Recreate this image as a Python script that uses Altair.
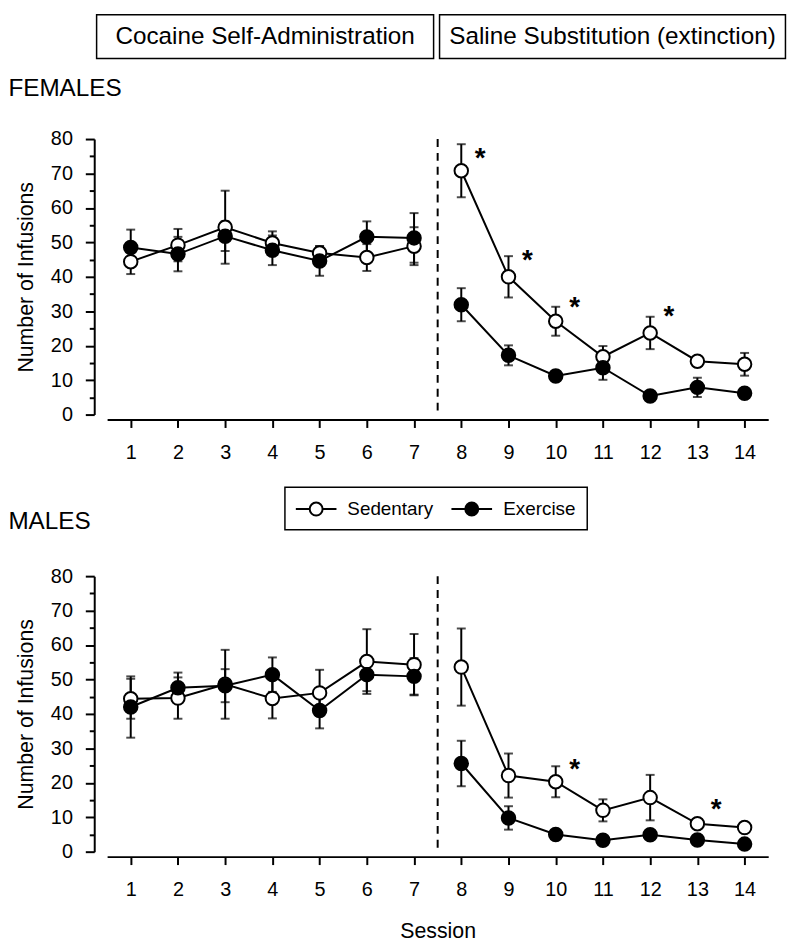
import altair as alt
import pandas as pd

# ---------------- data ----------------
sessions = list(range(1, 15))
groups = ["Sedentary", "Exercise"]
phase_labels = ["Cocaine Self-Administration", "Saline Substitution (extinction)"]
panel_names = ["FEMALES", "MALES"]
y_title = "Number of Infusions"
x_title = "Session"

fem_sed_mean = [44.4, 49.2, 54.4, 49.8, 46.9, 45.6, 48.9, 70.8, 40.0, 27.1, 16.8, 23.7, 15.5, 14.6]
fem_sed_sem = [3.6, 4.7, 10.6, 3.4, 2.0, 3.9, 5.5, 7.7, 6.0, 4.2, 3.1, 4.7, 1.5, 3.3]
fem_ex_mean = [48.5, 46.6, 51.8, 47.7, 44.6, 51.6, 51.3, 31.9, 17.2, 11.2, 13.6, 5.4, 7.9, 6.2]
fem_ex_sem = [5.2, 5.0, 4.3, 4.3, 4.3, 4.5, 7.2, 4.8, 2.9, 1.5, 3.5, 0.8, 2.8, 1.0]

male_sed_mean = [44.4, 44.6, 48.6, 44.5, 46.1, 55.2, 54.3, 53.6, 22.1, 20.3, 12.0, 15.7, 8.1, 7.0]
male_sed_sem = [5.8, 6.0, 10.0, 5.8, 6.7, 9.4, 8.9, 11.2, 6.4, 4.5, 3.2, 6.6, 1.0, 1.0]
male_ex_mean = [42.0, 47.6, 48.2, 51.4, 41.0, 51.4, 50.9, 25.6, 9.8, 5.0, 3.3, 4.9, 3.4, 2.2]
male_ex_sem = [8.9, 4.4, 4.8, 5.0, 5.2, 4.8, 5.3, 6.6, 3.4, 1.0, 0.8, 1.0, 0.8, 0.8]

fem_star_sessions = [8, 9, 10, 12]
fem_star_y = [75.1, 45.3, 31.9, 29.2]
male_star_sessions = [10, 13]
male_star_y = [24.5, 13.0]

last_cocaine_session = 7
y_ticks = list(range(0, 81, 5))

FONT = "Liberation Sans"
W, H = 667, 278

xscale = alt.Scale(domain=[0.5, 14.5], nice=False, zero=False)
yscale = alt.Scale(domain=[0, 80], nice=False, zero=True)


def build_df(sed_m, sed_s, ex_m, ex_s):
    rows = []
    for g, means, sems in ((groups[0], sed_m, sed_s), (groups[1], ex_m, ex_s)):
        for s, m, e in zip(sessions, means, sems):
            ph = 0 if s <= last_cocaine_session else 1
            rows.append({"session": s, "group": g, "mean": m, "lo": m - e, "hi": m + e,
                         "segment": f"{g}-{ph}"})
    return pd.DataFrame(rows)


def panel(df, star_s, star_y, name, bottom):
    xaxis = alt.Axis(values=sessions, offset=5, tickSize=8, tickWidth=2, domainWidth=2,
                     labelPadding=15, labelFontSize=20, grid=False, labelOverlap=False,
                     title=x_title if bottom else None, titleFontSize=21.5,
                     titleFontWeight="normal", titlePadding=22)
    yaxis = alt.Axis(values=y_ticks, offset=13, domainWidth=2, tickWidth=2,
                     tickSize={"condition": {"test": "datum.value % 10 === 0", "value": 9}, "value": 5},
                     labelExpr="datum.value % 10 === 0 ? datum.label : ''",
                     labelOverlap=False, labelPadding=13, labelFontSize=20, grid=False,
                     title=y_title, titleFontSize=21.5, titleFontWeight="normal", titlePadding=13)
    X = lambda f: alt.X(f"{f}:Q", scale=xscale, axis=xaxis)
    Y = lambda f: alt.Y(f"{f}:Q", scale=yscale, axis=yaxis)

    base = alt.Chart(df)
    err = base.mark_rule(strokeWidth=2, color="black").encode(x=X("session"), y=Y("lo"), y2="hi:Q")
    sep = alt.Chart(pd.DataFrame({"session": [last_cocaine_session + 0.5]})).mark_rule(
        strokeDash=[8, 6], strokeWidth=2, color="black").encode(
        x=X("session"), y=alt.YDatum(80, scale=yscale, axis=yaxis), y2=alt.Y2Datum(0))
    cap_lo = base.mark_tick(orient="horizontal", size=9, thickness=2, color="black").encode(
        x=X("session"), y=Y("lo"))
    cap_hi = base.mark_tick(orient="horizontal", size=9, thickness=2, color="black").encode(
        x=X("session"), y=Y("hi"))
    lines = base.mark_line(strokeWidth=2, color="black").encode(
        x=X("session"), y=Y("mean"), detail="segment:N")
    pts_sed = base.transform_filter(alt.datum.group == groups[0]).mark_point(
        filled=True, fill="white", stroke="black", strokeWidth=2, size=185, opacity=1).encode(
        x=X("session"), y=Y("mean"))
    pts_ex = base.transform_filter(alt.datum.group == groups[1]).mark_point(
        filled=True, fill="black", stroke="black", strokeWidth=2, size=185, opacity=1).encode(
        x=X("session"), y=Y("mean"))
    stars = alt.Chart(pd.DataFrame({"session": star_s, "mean": star_y})).mark_text(
        text="*", fontSize=28, fontWeight="bold", dx=19, dy=3, color="black").encode(
        x=X("session"), y=Y("mean"))

    layers = [err, sep, cap_lo, cap_hi, lines, pts_sed, pts_ex, stars]

    lab = alt.Chart(pd.DataFrame({"t": [name]})).mark_text(
        align="left", baseline="middle", fontSize=24.5, color="black").encode(
        x=alt.value(-99.6), y=alt.value(-50.7 if not bottom else -55), text="t:N")
    layers.append(lab)

    if not bottom:
        for txt, x1, x2 in ((phase_labels[0], -10.6, 329.4), (phase_labels[1], 335.4, 684.4)):
            d = pd.DataFrame({"t": [txt]})
            layers.append(alt.Chart(d).mark_rect(fillOpacity=0, stroke="black", strokeWidth=1.5).encode(
                x=alt.value(x1), x2=alt.value(x2), y=alt.value(-125.3), y2=alt.value(-81.3)))
            layers.append(alt.Chart(d).mark_text(fontSize=24.5, align="center", baseline="middle",
                                                 color="black").encode(
                x=alt.value((x1 + x2) / 2), y=alt.value(-103.3), text="t:N"))
    else:
        ly = -67.7
        d = pd.DataFrame({"t": [groups[0]]})
        layers.append(alt.Chart(d).mark_rect(fillOpacity=0, stroke="black", strokeWidth=1.5).encode(
            x=alt.value(179.4), x2=alt.value(484.4), y=alt.value(-89.7), y2=alt.value(-46.7)))
        for g, fill, lx, tx in ((groups[0], "white", 190.4, 242.4), (groups[1], "black", 347.4, 399.7)):
            d = pd.DataFrame({"t": [g]})
            layers.append(alt.Chart(d).mark_rule(strokeWidth=2, color="black").encode(
                x=alt.value(lx), x2=alt.value(lx + 41), y=alt.value(ly)))
            layers.append(alt.Chart(d).mark_point(filled=True, fill=fill, stroke="black", strokeWidth=2,
                                                  size=170, opacity=1).encode(
                x=alt.value(lx + 20.5), y=alt.value(ly)))
            layers.append(alt.Chart(d).mark_text(align="left", baseline="middle", fontSize=19,
                                                 color="black").encode(
                x=alt.value(tx), y=alt.value(ly), text="t:N"))

    return alt.layer(*layers).properties(width=W, height=H)


top = panel(build_df(fem_sed_mean, fem_sed_sem, fem_ex_mean, fem_ex_sem),
            fem_star_sessions, fem_star_y, panel_names[0], False)
bot = panel(build_df(male_sed_mean, male_sed_sem, male_ex_mean, male_ex_sem),
            male_star_sessions, male_star_y, panel_names[1], True)

chart = alt.vconcat(top, bot, spacing=163, bounds="flush").properties(
    padding={"left": 0, "top": 1, "right": 5, "bottom": 5}
).configure_view(stroke=None).configure_axis(
    labelFont=FONT, titleFont=FONT, labelColor="black", titleColor="black",
    domainColor="black", tickColor="black"
).configure_text(font=FONT)

chart.save("out.html", embed_options={"renderer": "svg", "actions": False})
